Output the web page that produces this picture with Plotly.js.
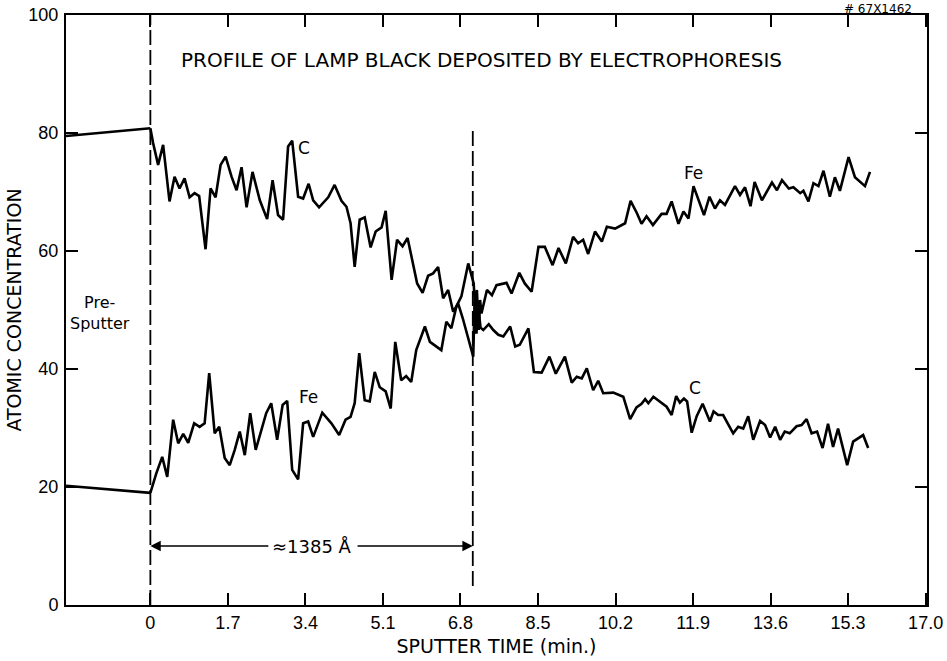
<!DOCTYPE html>
<html>
<head>
<meta charset="utf-8">
<script src="https://cdn.plot.ly/plotly-3.0.1.min.js"></script>
<style>html,body{margin:0;padding:0;background:#fff;}#chart{width:947px;height:661px;}</style>
</head>
<body>
<div id="chart"></div>
<script>
// Pre-sputter segment (before time 0)
const preTime = [-1.85, 0];
const preC = [79.5, 80.8];
const preFe = [20.2, 19.0];

// Carbon profile
const cTime = [0, 0.06, 0.17, 0.28, 0.42, 0.53, 0.64, 0.75, 0.86, 0.97, 1.07, 1.21, 1.32, 1.43, 1.54, 1.65, 1.78, 1.89, 2.00, 2.11,
  2.24, 2.40, 2.56, 2.68, 2.80, 2.91, 3.02, 3.11, 3.24, 3.35, 3.47, 3.57, 3.70, 3.90, 4.04, 4.19, 4.30, 4.39, 4.48, 4.59,
  4.70, 4.83, 4.94, 5.07, 5.16, 5.29, 5.41, 5.53, 5.64, 5.75, 5.85, 5.97, 6.09, 6.20, 6.31, 6.42, 6.53, 6.64, 6.75, 6.85,
  7.08, 7.11, 7.15, 7.19, 7.24, 7.30, 7.42, 7.52, 7.63, 7.74, 7.89, 8.00, 8.10, 8.29, 8.41, 8.58, 8.75, 8.89, 9.09, 9.24,
  9.35, 9.46, 9.57, 9.71, 9.82, 9.93, 10.15, 10.37, 10.52, 10.66, 10.77, 10.85, 10.92, 11.03, 11.21, 11.32, 11.43, 11.53, 11.61, 11.70,
  11.77, 11.87, 11.98, 12.11, 12.27, 12.35, 12.45, 12.56, 12.78, 12.89, 13.00, 13.11, 13.22, 13.37, 13.48, 13.59, 13.70, 13.81, 13.91, 14.02,
  14.17, 14.28, 14.39, 14.50, 14.62, 14.74, 14.86, 14.97, 15.08, 15.28, 15.41, 15.63, 15.74];
const cConc = [80.8, 78.3, 74.6, 78.0, 68.4, 72.6, 70.6, 72.3, 69.1, 69.8, 69.3, 60.3, 70.6, 69.1, 74.6, 76.0, 72.6, 70.3, 74.2, 67.4,
  73.4, 68.6, 65.4, 72.0, 66.1, 65.3, 77.7, 78.7, 69.2, 68.9, 71.4, 68.6, 67.4, 69.1, 71.2, 68.5, 67.5, 64.7, 57.3, 65.3,
  65.7, 60.6, 63.3, 64.0, 66.8, 55.1, 61.9, 60.8, 62.2, 57.9, 54.5, 52.9, 55.8, 56.2, 57.3, 52.0, 53.4, 49.7, 51.1, 48.6,
  42.1, 51.5, 46.0, 50.5, 47.0, 46.6, 47.6, 46.6, 45.8, 45.5, 47.2, 43.8, 44.1, 46.9, 39.5, 39.4, 42.1, 39.2, 42.1, 37.7,
  38.7, 38.4, 40.1, 36.4, 38.0, 35.9, 36.0, 35.3, 31.5, 33.5, 34.1, 34.9, 34.2, 35.3, 34.2, 33.6, 32.2, 35.4, 34.3, 35.0,
  34.5, 29.2, 32.0, 34.1, 31.1, 32.8, 32.2, 32.2, 29.1, 30.2, 29.9, 32.0, 28.0, 31.2, 30.5, 28.4, 30.2, 28.0, 29.4, 29.1,
  30.3, 30.5, 31.5, 29.1, 29.4, 26.6, 30.7, 26.8, 29.9, 23.7, 27.7, 28.8, 26.6];

// Iron profile
const feTime = [0, 0.13, 0.26, 0.37, 0.50, 0.61, 0.72, 0.83, 0.96, 1.08, 1.19, 1.29, 1.41, 1.51, 1.63, 1.74, 1.85, 1.96, 2.07, 2.19,
  2.31, 2.43, 2.54, 2.65, 2.78, 2.90, 3.00, 3.11, 3.24, 3.35, 3.46, 3.57, 3.77, 3.97, 4.14, 4.28, 4.39, 4.48, 4.58, 4.70,
  4.81, 4.92, 5.03, 5.16, 5.27, 5.37, 5.50, 5.61, 5.72, 5.83, 6.02, 6.13, 6.38, 6.49, 6.60, 6.71, 6.82, 6.97, 7.09, 7.13,
  7.16, 7.20, 7.23, 7.26, 7.38, 7.49, 7.59, 7.81, 7.92, 8.09, 8.21, 8.36, 8.51, 8.65, 8.82, 8.95, 9.11, 9.27, 9.38, 9.49,
  9.60, 9.75, 9.90, 10.01, 10.19, 10.41, 10.53, 10.67, 10.77, 10.88, 11.02, 11.21, 11.32, 11.43, 11.58, 11.69, 11.80, 11.91, 12.02, 12.14,
  12.26, 12.38, 12.49, 12.60, 12.82, 12.93, 13.04, 13.16, 13.25, 13.41, 13.63, 13.74, 13.85, 14.00, 14.10, 14.25, 14.32, 14.43, 14.54, 14.65,
  14.76, 14.90, 15.01, 15.12, 15.31, 15.45, 15.67, 15.78];
const feConc = [19.0, 22.3, 25.1, 21.7, 31.4, 27.4, 29.0, 27.5, 30.8, 30.2, 30.8, 39.3, 29.1, 30.2, 24.9, 23.7, 26.3, 29.4, 25.4, 32.5,
  26.3, 29.7, 32.5, 34.2, 28.0, 33.9, 34.6, 22.9, 21.3, 30.8, 31.1, 28.5, 32.6, 30.8, 28.8, 31.4, 31.9, 34.2, 42.7, 34.7,
  34.5, 39.5, 36.9, 36.2, 33.3, 44.6, 38.1, 38.8, 37.8, 43.2, 47.2, 44.6, 43.2, 48.0, 46.9, 50.6, 52.3, 57.9, 54.5, 48.9,
  53.4, 46.6, 51.7, 49.4, 53.4, 52.5, 54.2, 54.6, 52.8, 56.3, 54.5, 53.1, 60.7, 60.7, 57.6, 60.5, 57.9, 62.4, 61.3, 61.9,
  59.5, 63.3, 61.6, 64.1, 63.8, 64.7, 68.5, 66.4, 64.6, 65.9, 64.4, 66.3, 66.3, 68.4, 64.6, 66.7, 65.5, 71.0, 68.6, 66.1,
  69.2, 67.2, 68.6, 67.8, 71.0, 69.5, 70.8, 67.6, 71.7, 68.6, 71.6, 70.3, 72.0, 70.6, 70.8, 69.8, 70.2, 68.4, 71.5, 71.0,
  73.6, 69.2, 72.5, 70.2, 75.9, 72.5, 71.0, 73.4];

// Axis ticks
const xTickVals = [0, 1.7, 3.4, 5.1, 6.8, 8.5, 10.2, 11.9, 13.6, 15.3, 17.0];
const xTickText = ["0", "1.7", "3.4", "5.1", "6.8", "8.5", "10.2", "11.9", "13.6", "15.3", "17.0"];
const yTickVals = [0, 20, 40, 60, 80, 100];
const yTickText = ["0", "20", "40", "60", "80", "100"];

// Reference marks
const startTime = 0;
const interfaceTime = 7.07;

const lineStyle = {color: '#000', width: 2.6};
const traces = [
  {x: preTime, y: preC, mode: 'lines', line: lineStyle, hoverinfo: 'skip'},
  {x: preTime, y: preFe, mode: 'lines', line: lineStyle, hoverinfo: 'skip'},
  {x: cTime, y: cConc, mode: 'lines', line: lineStyle, name: 'C'},
  {x: feTime, y: feConc, mode: 'lines', line: lineStyle, name: 'Fe'}
];

const labelFont = {family: 'DejaVu Sans', size: 17, color: '#000'};
const layout = {
  width: 947, height: 661,
  margin: {l: 66, r: 20, t: 15, b: 56},
  paper_bgcolor: '#fff', plot_bgcolor: '#fff',
  showlegend: false,
  xaxis: {
    range: [-1.85, 17.03], tickvals: xTickVals, ticktext: xTickText,
    ticks: 'inside', ticklen: 12, tickwidth: 2, tickcolor: '#000',
    showline: true, linewidth: 2, linecolor: '#000', mirror: 'ticks',
    showgrid: false, zeroline: false, ticklabelstandoff: 0,
    tickfont: {family: 'Liberation Sans', size: 18, color: '#000'},
    title: {text: 'SPUTTER TIME (min.)', font: {family: 'DejaVu Sans', size: 19, color: '#000'}, standoff: 8}
  },
  yaxis: {
    range: [0, 100], tickvals: yTickVals, ticktext: yTickText,
    ticks: 'inside', ticklen: 12, tickwidth: 2, tickcolor: '#000',
    showline: true, linewidth: 2, linecolor: '#000', mirror: 'ticks',
    showgrid: false, zeroline: false, ticklabelstandoff: 2,
    tickfont: {family: 'Liberation Sans', size: 18, color: '#000'},
    title: {text: 'ATOMIC CONCENTRATION', font: {family: 'DejaVu Sans', size: 19, color: '#000'}, standoff: 2}
  },
  shapes: [
    {type: 'line', xref: 'x', yref: 'y', x0: startTime, x1: startTime, y0: 0, y1: 100,
     line: {color: '#000', width: 1.8, dash: '15px,5px'}},
    {type: 'line', xref: 'x', yref: 'y', x0: interfaceTime, x1: interfaceTime, y0: 3.2, y1: 80.8,
     line: {color: '#000', width: 1.8, dash: '15px,5px'}}
  ],
  annotations: [
    {x: 7.27, y: 92.4, xref: 'x', yref: 'y', showarrow: false,
     text: 'PROFILE OF LAMP BLACK DEPOSITED BY ELECTROPHORESIS',
     font: {family: 'DejaVu Sans', size: 20, color: '#000'}},
    {x: -1.11, y: 49.5, xref: 'x', yref: 'y', showarrow: false, text: 'Pre-<br>Sputter',
     font: {family: 'DejaVu Sans', size: 16, color: '#000'}},
    {x: 3.37, y: 77.4, xref: 'x', yref: 'y', showarrow: false, text: 'C', font: labelFont},
    {x: 3.46, y: 35.2, xref: 'x', yref: 'y', showarrow: false, text: 'Fe', font: labelFont},
    {x: 11.91, y: 73.2, xref: 'x', yref: 'y', showarrow: false, text: 'Fe', font: labelFont},
    {x: 11.94, y: 36.7, xref: 'x', yref: 'y', showarrow: false, text: 'C', font: labelFont},
    {x: 3.54, y: 10, xref: 'x', yref: 'y', showarrow: false, text: '≈1385 Å',
     font: {family: 'DejaVu Sans', size: 18, color: '#000'}},
    {x: startTime, y: 10, xref: 'x', yref: 'y', ax: 2.62, ay: 10, axref: 'x', ayref: 'y',
     text: '', showarrow: true, arrowhead: 2, arrowsize: 1.3, arrowwidth: 1.6, arrowcolor: '#000'},
    {x: interfaceTime, y: 10, xref: 'x', yref: 'y', ax: 4.51, ay: 10, axref: 'x', ayref: 'y',
     text: '', showarrow: true, arrowhead: 2, arrowsize: 1.3, arrowwidth: 1.6, arrowcolor: '#000'},
    {x: 0.943, y: 1.0254, xref: 'paper', yref: 'paper', showarrow: false, text: '# 67X1462',
     xanchor: 'center', yanchor: 'top', font: {family: 'DejaVu Sans', size: 12, color: '#000'}}
  ]
};

Plotly.newPlot('chart', traces, layout, {displayModeBar: false, staticPlot: true});
</script>
</body>
</html>
